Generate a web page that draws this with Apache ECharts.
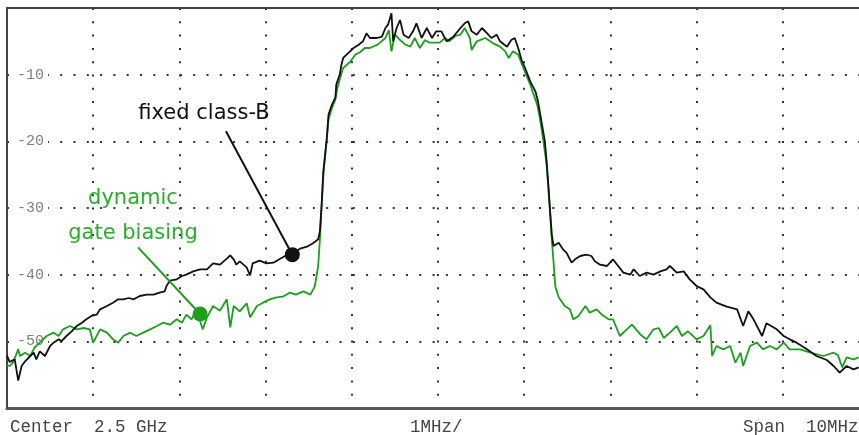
<!DOCTYPE html>
<html>
<head>
<meta charset="utf-8">
<script src="https://cdn.jsdelivr.net/npm/echarts@6/dist/echarts.min.js"></script>
<style>
  html, body { margin: 0; padding: 0; background: #fff; overflow: hidden; }
  /* the analyser screen is 10 divisions wide; the picture cuts off its right edge */
  #chart { width: 869px; height: 435px; }
</style>
</head>
<body>
<div id="chart"></div>
<script>
// offset from 2.5 GHz centre, MHz
const fixedFreq = [-5.00,-4.97,-4.91,-4.87,-4.83,-4.79,-4.73,-4.69,-4.66,-4.62,
  -4.56,-4.50,-4.46,-4.40,-4.37,-4.31,-4.25,-4.19,-4.13,-4.08,
  -4.02,-3.96,-3.92,-3.84,-3.77,-3.71,-3.65,-3.59,-3.53,-3.46,
  -3.38,-3.30,-3.23,-3.17,-3.15,-3.11,-3.03,-2.97,-2.92,-2.84,
  -2.76,-2.68,-2.61,-2.53,-2.45,-2.41,-2.37,-2.34,-2.30,-2.22,
  -2.18,-2.15,-2.07,-1.99,-1.91,-1.83,-1.75,-1.68,-1.60,-1.52,
  -1.45,-1.39,-1.37,-1.35,-1.33,-1.29,-1.27,-1.23,-1.19,-1.18,
  -1.14,-1.12,-1.10,-1.06,-1.02,-0.98,-0.92,-0.87,-0.83,-0.79,
  -0.71,-0.65,-0.61,-0.58,-0.54,-0.52,-0.48,-0.44,-0.40,-0.34,
  -0.29,-0.25,-0.19,-0.13,-0.07,-0.02,0.04,0.10,0.18,0.26,
  0.31,0.35,0.39,0.45,0.51,0.57,0.62,0.68,0.72,0.80,
  0.85,0.89,0.93,0.97,1.01,1.07,1.13,1.16,1.20,1.24,
  1.26,1.28,1.30,1.32,1.34,1.36,1.40,1.45,1.49,1.55,
  1.59,1.65,1.72,1.78,1.82,1.88,1.96,2.03,2.09,2.15,
  2.23,2.27,2.34,2.42,2.50,2.58,2.65,2.69,2.77,2.85,
  2.92,3.00,3.08,3.16,3.23,3.35,3.47,3.54,3.60,3.66,
  3.76,3.81,3.93,4.01,4.08,4.16,4.28,4.39,4.51,4.59,
  4.66,4.74,4.82,4.88];
const fixedLevel = [-52.1,-53.1,-52.7,-55.9,-53.7,-53.0,-52.2,-51.7,-52.7,-51.5,
  -52.2,-50.7,-50.2,-49.7,-50.0,-49.2,-48.5,-47.7,-47.2,-46.7,
  -46.2,-46.0,-45.2,-44.7,-44.2,-43.7,-43.7,-43.5,-43.7,-43.2,
  -43.0,-43.0,-42.7,-42.5,-41.7,-40.9,-40.7,-40.2,-40.0,-39.5,
  -39.2,-39.2,-38.3,-38.5,-37.6,-37.1,-37.7,-38.5,-38.0,-38.9,
  -40.1,-38.3,-37.9,-38.3,-38.2,-37.6,-37.0,-36.7,-36.1,-35.8,
  -35.3,-34.7,-33.5,-29.5,-24.5,-19.5,-16.0,-14.5,-13.4,-11.5,
  -10.0,-8.5,-7.5,-7.0,-6.5,-6.0,-5.5,-5.0,-3.8,-4.5,
  -4.5,-4.3,-3.0,-2.5,-0.8,-5.0,-3.0,-1.8,-4.0,-4.5,
  -3.5,-2.3,-4.5,-3.0,-4.5,-3.5,-3.5,-5.0,-4.3,-3.0,
  -2.3,-2.0,-3.5,-4.0,-3.0,-3.8,-4.5,-4.0,-5.0,-5.8,
  -4.8,-4.5,-6.0,-7.8,-9.0,-11.0,-12.5,-14.0,-17.0,-20.0,
  -23.0,-26.5,-30.5,-34.0,-35.7,-36.0,-35.2,-36.2,-36.7,-38.2,
  -37.7,-37.2,-37.0,-37.2,-38.0,-38.5,-38.7,-37.7,-38.7,-39.7,
  -40.0,-39.2,-40.2,-39.7,-40.0,-39.5,-39.2,-38.7,-39.7,-39.5,
  -40.7,-41.7,-42.2,-43.4,-44.2,-44.8,-45.2,-47.7,-45.5,-46.7,
  -49.2,-47.3,-48.2,-49.2,-49.7,-50.2,-51.2,-52.2,-52.8,-53.7,
  -54.7,-53.7,-54.2,-53.9];

const dynFreq = [-5.00,-4.97,-4.93,-4.87,-4.85,-4.79,-4.73,-4.68,-4.62,-4.54,
  -4.46,-4.40,-4.35,-4.27,-4.19,-4.11,-4.04,-4.00,-3.92,-3.84,
  -3.77,-3.71,-3.65,-3.57,-3.50,-3.42,-3.34,-3.26,-3.19,-3.11,
  -3.03,-2.97,-2.92,-2.86,-2.80,-2.76,-2.73,-2.68,-2.61,-2.53,
  -2.45,-2.41,-2.37,-2.30,-2.22,-2.18,-2.10,-2.03,-1.95,-1.87,
  -1.80,-1.72,-1.65,-1.56,-1.48,-1.43,-1.39,-1.37,-1.35,-1.33,
  -1.29,-1.27,-1.23,-1.19,-1.17,-1.14,-1.10,-1.02,-0.96,-0.90,
  -0.85,-0.79,-0.70,-0.61,-0.57,-0.54,-0.50,-0.44,-0.38,-0.32,
  -0.27,-0.21,-0.15,-0.10,0.02,0.08,0.13,0.20,0.26,0.31,
  0.37,0.39,0.45,0.55,0.64,0.72,0.78,0.82,0.87,0.93,
  0.99,1.07,1.11,1.15,1.18,1.22,1.26,1.30,1.32,1.34,
  1.36,1.40,1.42,1.47,1.53,1.57,1.63,1.71,1.76,1.84,
  1.90,1.98,2.03,2.11,2.19,2.25,2.35,2.42,2.50,2.56,
  2.62,2.69,2.77,2.83,2.90,3.00,3.08,3.16,3.18,3.23,
  3.31,3.39,3.45,3.51,3.54,3.62,3.70,3.77,3.85,3.93,
  4.01,4.08,4.20,4.32,4.47,4.59,4.64,4.69,4.74,4.82,
  4.88];
const dynLevel = [-53.6,-53.7,-53.2,-51.2,-52.2,-51.7,-52.2,-50.9,-50.2,-49.2,
  -48.7,-49.2,-48.2,-47.7,-48.2,-48.0,-48.2,-50.2,-48.2,-48.7,
  -49.7,-50.2,-49.2,-48.7,-49.2,-48.7,-48.2,-47.7,-47.2,-47.5,
  -46.7,-47.2,-46.0,-46.7,-45.2,-47.0,-48.2,-46.4,-44.7,-45.4,
  -43.7,-47.9,-44.7,-45.5,-44.3,-46.4,-44.7,-44.2,-43.7,-43.4,
  -43.3,-42.7,-43.0,-42.5,-43.0,-41.8,-38.7,-34.7,-29.8,-25.0,
  -19.7,-16.7,-15.0,-13.7,-12.2,-10.7,-9.0,-8.1,-7.0,-6.6,
  -6.0,-6.0,-5.5,-4.5,-3.3,-6.5,-4.0,-4.8,-5.5,-5.8,
  -4.5,-6.0,-4.8,-5.2,-5.2,-4.5,-5.0,-4.2,-4.0,-3.0,
  -4.5,-6.3,-5.0,-4.5,-5.3,-5.8,-6.5,-7.5,-6.5,-7.0,
  -9.0,-11.5,-13.0,-14.5,-16.4,-19.7,-23.5,-30.5,-34.7,-38.0,
  -41.7,-43.4,-43.2,-44.7,-45.2,-46.7,-46.2,-44.7,-45.7,-45.2,
  -46.0,-46.7,-46.7,-49.2,-48.2,-47.5,-49.0,-49.7,-48.2,-48.0,
  -49.5,-48.7,-47.7,-49.2,-48.5,-49.7,-49.2,-47.6,-52.2,-50.7,
  -51.2,-50.7,-53.2,-51.7,-53.7,-50.7,-50.2,-51.2,-50.7,-51.2,
  -50.2,-51.2,-51.2,-51.7,-52.2,-51.7,-52.1,-53.9,-52.4,-52.7,
  -52.4];

// annotation pointers: [label start, dot on trace]
const fixedNote = [[-2.46, -18.5], [-1.69, -37.0]];
const dynNote = [[-3.48, -35.9], [-2.76, -45.9]];

const footerLabels = ['Center  2.5 GHz', '1MHz/', 'Span  10MHz'];

const BLACK = '#111111';
const GREEN = '#1e9e1e';
const TEXT_GREEN = '#2aae2a';
const DOTS = { color: '#333', width: 2, type: [2, 11.3] };

const chart = echarts.init(document.getElementById('chart'), null, { renderer: 'canvas' });

function zip(xs, ys) {
  return xs.map((x, i) => [x, ys[i]]);
}

const option = {
  animation: false,
  backgroundColor: '#fff',
  grid: { left: 7, right: 0, top: 8, bottom: 27 },
  xAxis: [
    {
      type: 'value',
      min: -5,
      max: 5,
      interval: 1,
      position: 'bottom',
      axisLine: { show: true, onZero: false, lineStyle: { color: '#555', width: 3 } },
      axisTick: { show: false },
      axisLabel: { show: false },
      splitLine: { show: true, lineStyle: DOTS }
    },
    {
      type: 'value',
      min: -5,
      max: 5,
      position: 'top',
      axisLine: { show: true, onZero: false, lineStyle: { color: '#444', width: 2 } },
      axisTick: { show: false },
      axisLabel: { show: false },
      splitLine: { show: false }
    }
  ],
  yAxis: {
    type: 'value',
    min: -60,
    max: 0,
    interval: 10,
    axisLine: { show: true, onZero: false, lineStyle: { color: '#444', width: 2 } },
    axisTick: { show: false },
    axisLabel: {
      inside: true,
      margin: 8,
      showMinLabel: false,
      showMaxLabel: false,
      color: '#808080',
      fontFamily: 'Liberation Mono',
      fontSize: 15,
      backgroundColor: '#fff',
      padding: [0, 4, 0, 2]
    },
    splitLine: { show: true, lineStyle: DOTS }
  },
  series: [
    {
      name: 'dynamic gate biasing',
      type: 'line',
      data: zip(dynFreq, dynLevel),
      symbol: 'none',
      lineStyle: { color: GREEN, width: 1.8 },
      z: 3
    },
    {
      name: 'fixed class-B',
      type: 'line',
      data: zip(fixedFreq, fixedLevel),
      symbol: 'none',
      lineStyle: { color: BLACK, width: 1.8 },
      z: 4
    },
    {
      type: 'line',
      data: dynNote,
      symbol: 'circle',
      symbolSize: (v, p) => (p.dataIndex === 1 ? 15 : 0),
      itemStyle: { color: GREEN },
      lineStyle: { color: GREEN, width: 2 },
      z: 5
    },
    {
      type: 'line',
      data: fixedNote,
      symbol: 'circle',
      symbolSize: (v, p) => (p.dataIndex === 1 ? 15 : 0),
      itemStyle: { color: BLACK },
      lineStyle: { color: BLACK, width: 2 },
      z: 5
    }
  ],
  graphic: [
    {
      type: 'text', x: 204, y: 114, z: 10,
      style: { text: 'fixed class-B', fill: BLACK, font: '21px "DejaVu Sans"', textAlign: 'center', textVerticalAlign: 'middle' }
    },
    {
      type: 'text', x: 133, y: 199, z: 10,
      style: { text: 'dynamic', fill: TEXT_GREEN, font: '21px "DejaVu Sans"', textAlign: 'center', textVerticalAlign: 'middle' }
    },
    {
      type: 'text', x: 133, y: 234, z: 10,
      style: { text: 'gate biasing', fill: TEXT_GREEN, font: '21px "DejaVu Sans"', textAlign: 'center', textVerticalAlign: 'middle' }
    },
    {
      type: 'text', x: 10, y: 427,
      style: { text: footerLabels[0], fill: '#444', font: '17.5px "Liberation Mono"', textAlign: 'left', textVerticalAlign: 'middle' }
    },
    {
      type: 'text', x: 410, y: 427,
      style: { text: footerLabels[1], fill: '#444', font: '17.5px "Liberation Mono"', textAlign: 'left', textVerticalAlign: 'middle' }
    },
    {
      type: 'text', x: 743, y: 427,
      style: { text: footerLabels[2], fill: '#444', font: '17.5px "Liberation Mono"', textAlign: 'left', textVerticalAlign: 'middle' }
    }
  ]
};

chart.setOption(option);
</script>
</body>
</html>
